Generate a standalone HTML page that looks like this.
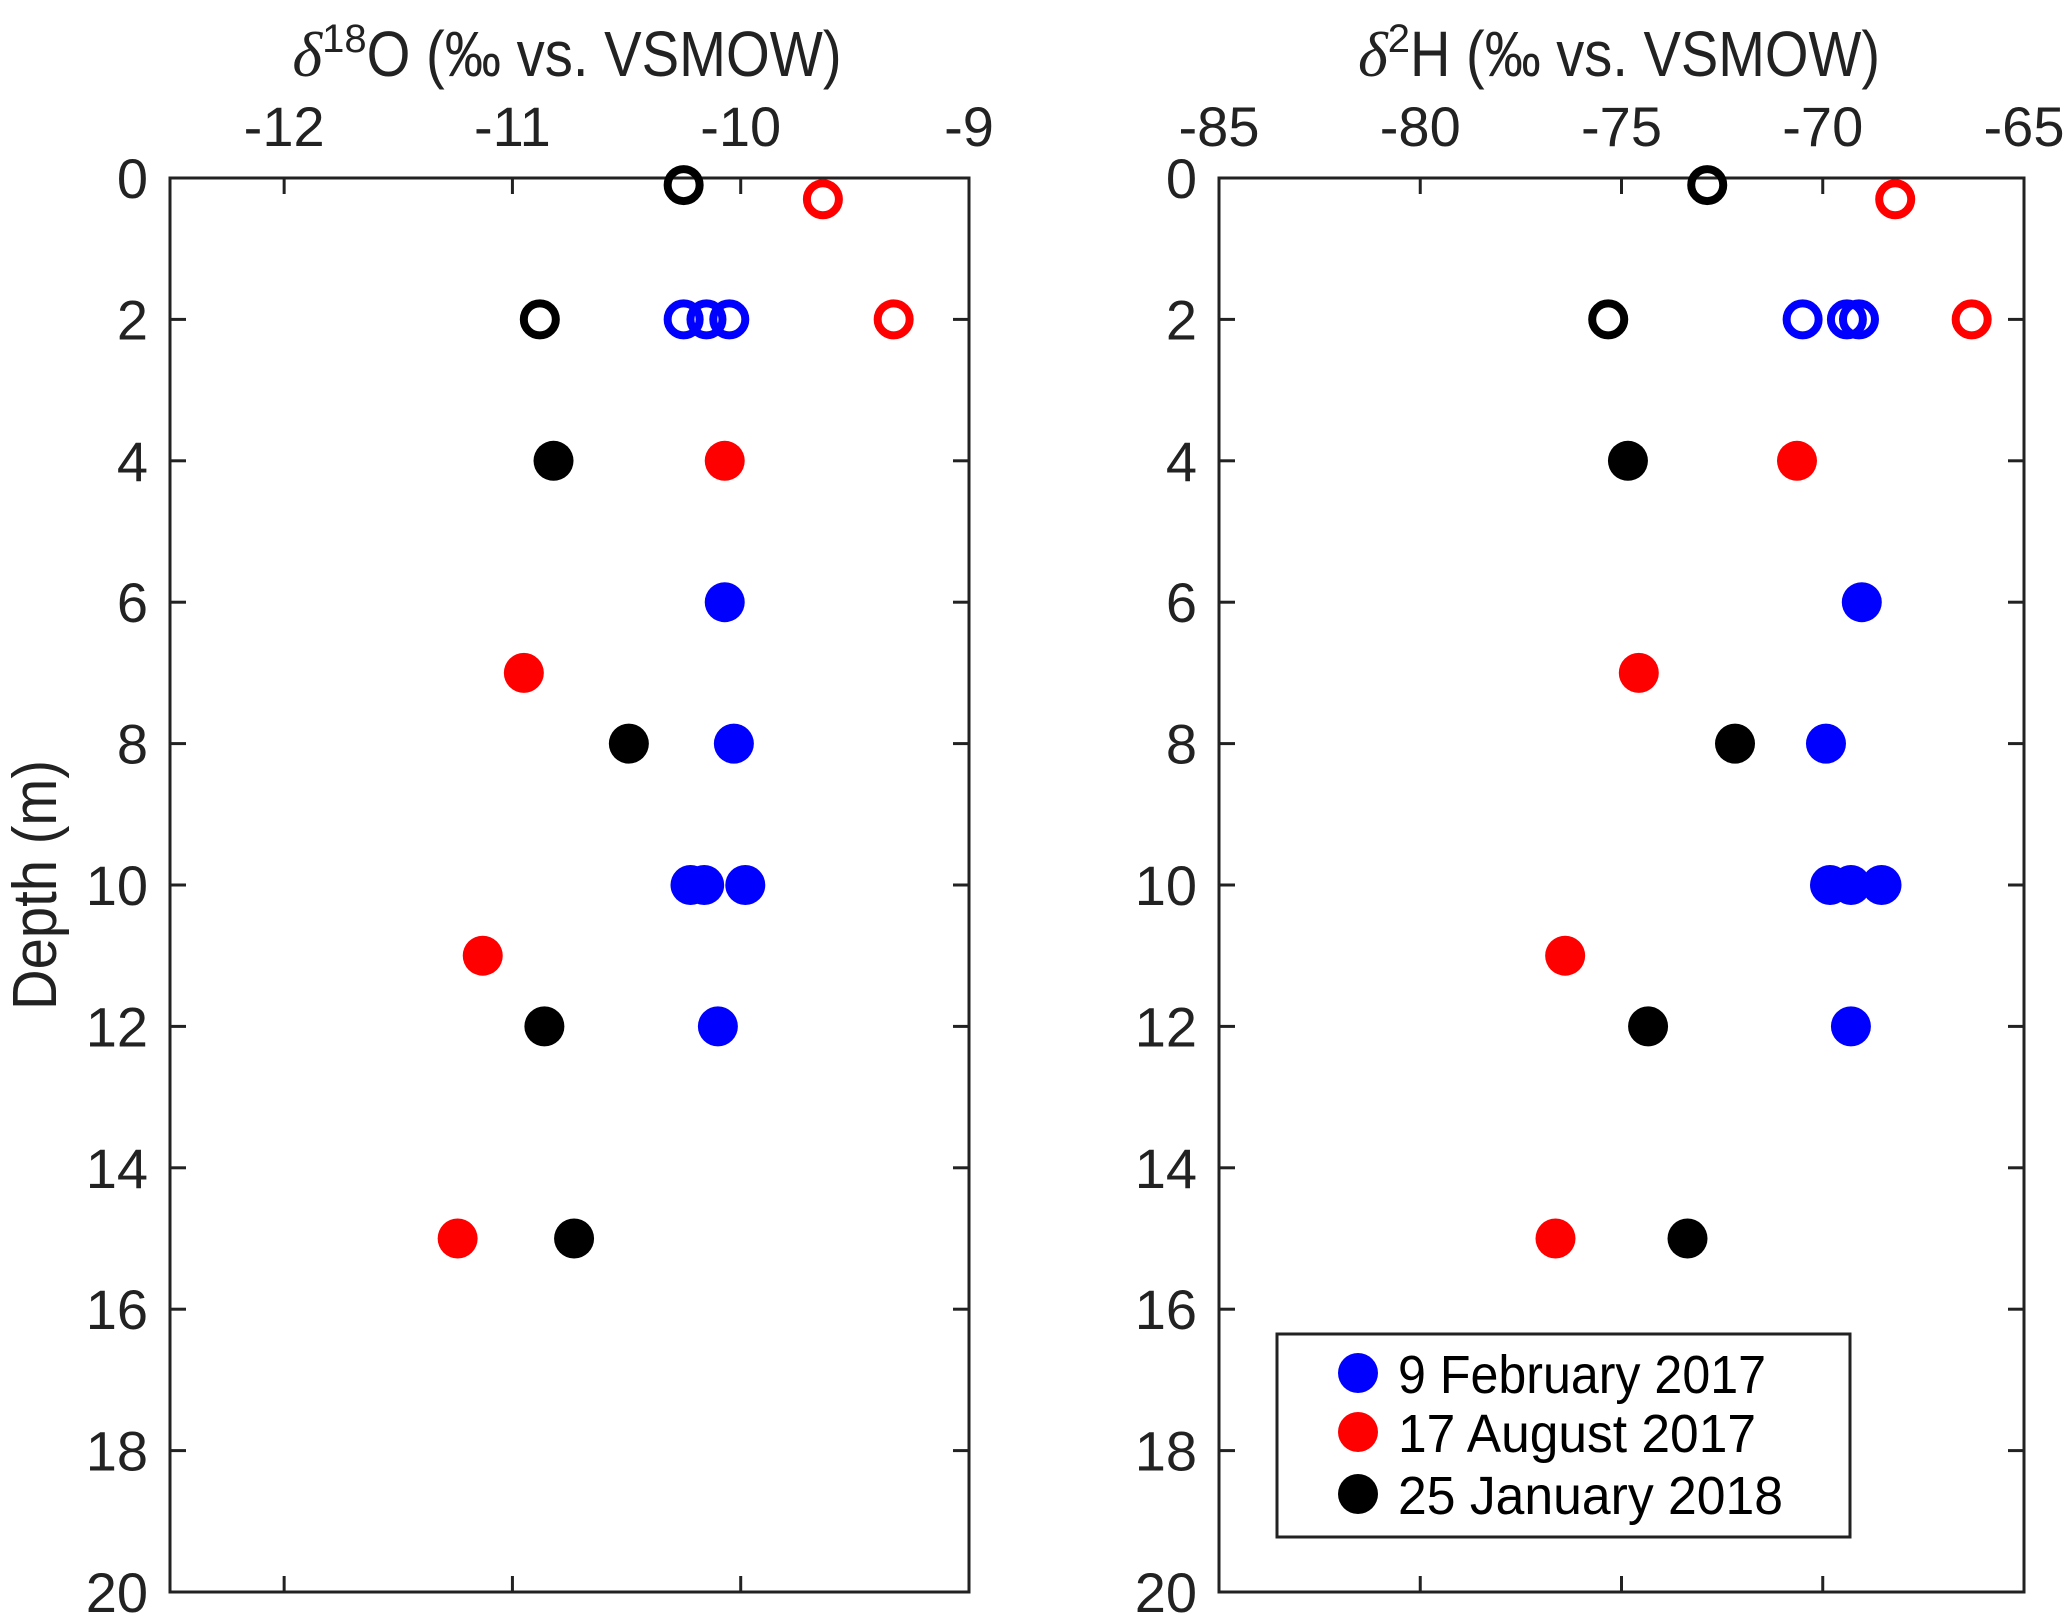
<!DOCTYPE html>
<html><head><meta charset="utf-8"><style>
html,body{margin:0;padding:0;background:#fff;}
svg{display:block;font-family:"Liberation Sans",Arial,sans-serif;}
</style></head><body>
<svg id="chart" width="2067" height="1619" viewBox="0 0 2067 1619" xmlns="http://www.w3.org/2000/svg">
<text x="0" y="0" transform="translate(56,885) rotate(-90)" text-anchor="middle" font-size="62" textLength="250" lengthAdjust="spacingAndGlyphs" fill="#222">Depth (m)</text>
<text x="567" y="76" text-anchor="middle" font-size="64" fill="#222"><tspan font-family="Liberation Serif" font-style="italic">δ</tspan><tspan font-size="40" dy="-24">18</tspan><tspan dy="24" textLength="475" lengthAdjust="spacingAndGlyphs">O (‰ vs. VSMOW)</tspan></text>
<text x="1619" y="76" text-anchor="middle" font-size="64" fill="#222"><tspan font-family="Liberation Serif" font-style="italic">δ</tspan><tspan font-size="40" dy="-24">2</tspan><tspan dy="24" textLength="470" lengthAdjust="spacingAndGlyphs">H (‰ vs. VSMOW)</tspan></text>
<g id="p1"></g>
<g id="p2"></g>
<g id="legend">
<rect x="1277" y="1334" width="573" height="203" fill="#fff" stroke="#222" stroke-width="3"/>
<circle cx="1358" cy="1373" r="20" fill="#0000ff"/>
<text x="1398" y="1393" font-size="54" textLength="368" lengthAdjust="spacingAndGlyphs" fill="#000">9 February 2017</text>
<circle cx="1358" cy="1432" r="20" fill="#ff0000"/>
<text x="1398" y="1452" font-size="54" textLength="358" lengthAdjust="spacingAndGlyphs" fill="#000">17 August 2017</text>
<circle cx="1358" cy="1494" r="20" fill="#000"/>
<text x="1398" y="1514" font-size="54" textLength="385" lengthAdjust="spacingAndGlyphs" fill="#000">25 January 2018</text>
</g>
</svg>
<script>
const depthTicks=[0,2,4,6,8,10,12,14,16,18,20];
const o18Ticks=[-12,-11,-10,-9];
const h2Ticks=[-85,-80,-75,-70,-65];
// open markers (shallow)
const openDepth=[0.1,0.3,2,2,2,2,2];
const openColor=["#000","#ff0000","#000","#0000ff","#0000ff","#0000ff","#ff0000"];
const openO18=[-10.25,-9.64,-10.88,-10.25,-10.15,-10.05,-9.33];
const openH2=[-72.87,-68.2,-75.33,-70.5,-69.4,-69.1,-66.3];
// filled markers
const fillDepth=[4,4,6,7,8,8,10,10,10,11,12,12,15,15];
const fillColor=["#000","#ff0000","#0000ff","#ff0000","#000","#0000ff","#0000ff","#0000ff","#0000ff","#ff0000","#000","#0000ff","#ff0000","#000"];
const fillO18=[-10.82,-10.07,-10.07,-10.95,-10.49,-10.03,-10.22,-10.16,-9.98,-11.13,-10.86,-10.10,-11.24,-10.73];
const fillH2=[-74.84,-70.64,-69.03,-74.57,-72.18,-69.92,-69.82,-69.3,-68.54,-76.4,-74.34,-69.3,-76.64,-73.36];

const NS="http://www.w3.org/2000/svg";
function mk(tag,attrs,parent){const e=document.createElementNS(NS,tag);for(const k in attrs)e.setAttribute(k,attrs[k]);parent.appendChild(e);return e;}
const Y0=178,Y1=1592;
function ys(d){return Y0+(d-0)/(20-0)*(Y1-Y0);}
function panel(g,L,R,xmin,xmax,xticks,openX,fillX){
  const xs=v=>L+(v-xmin)/(xmax-xmin)*(R-L);
  const frame=mk('rect',{x:L,y:Y0,width:R-L,height:Y1-Y0,fill:'none',stroke:'#222','stroke-width':3},g);
  
  
  xticks.forEach(t=>{const x=xs(t);
    mk('line',{x1:x,y1:Y0,x2:x,y2:Y0+16,stroke:'#222','stroke-width':3},g);
    mk('line',{x1:x,y1:Y1,x2:x,y2:Y1-16,stroke:'#222','stroke-width':3},g);
    const tx=mk('text',{x:x,y:146,'text-anchor':'middle','font-size':56,fill:'#222'},g);
    tx.textContent=String(t);
    
    
  });
  depthTicks.forEach(t=>{const y=ys(t);
    mk('line',{x1:L,y1:y,x2:L+16,y2:y,stroke:'#222','stroke-width':3},g);
    mk('line',{x1:R,y1:y,x2:R-16,y2:y,stroke:'#222','stroke-width':3},g);
    const tx=mk('text',{x:L-22,y:y+20,'text-anchor':'end','font-size':56,fill:'#222'},g);
    tx.textContent=t;
    
    
  });
  fillX.forEach((v,i)=>{const c=mk('circle',{cx:xs(v),cy:ys(fillDepth[i]),r:20,fill:fillColor[i]},g);
    
    });
  openX.forEach((v,i)=>{const c=mk('circle',{cx:xs(v),cy:ys(openDepth[i]),r:16,fill:'none',stroke:openColor[i],'stroke-width':8},g);
    
    });
}
panel(document.getElementById('p1'),170,969,-12.5,-9,o18Ticks,openO18,fillO18);
panel(document.getElementById('p2'),1219,2024,-85,-65,h2Ticks,openH2,fillH2);
document.getElementById('chart').appendChild(document.getElementById('legend'));
</script>
</body></html>
